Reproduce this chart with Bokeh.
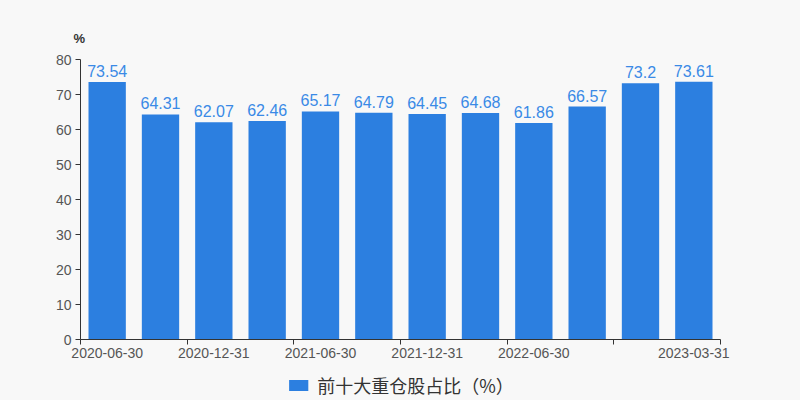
from bokeh.plotting import figure
from bokeh.layouts import column
from bokeh.models import (ColumnDataSource, Range1d, FixedTicker, Legend, LegendItem)
from bokeh.core.properties import value
from bokeh.embed import file_html
from bokeh.resources import INLINE

dates = ["2020-06-30", "2020-09-30", "2020-12-31", "2021-03-31", "2021-06-30", "2021-09-30",
         "2021-12-31", "2022-03-31", "2022-06-30", "2022-09-30", "2022-12-31", "2023-03-31"]
values = [73.54, 64.31, 62.07, 62.46, 65.17, 64.79, 64.45, 64.68, 61.86, 66.57, 73.2, 73.61]
shown_labels = [0, 2, 4, 6, 8, 11]
y_ticks = [0, 10, 20, 30, 40, 50, 60, 70, 80]
series_name = "前十大重仓股占比（%）"
unit_text = "%"

BG = "#f8f8f8"
BAR = "#2c7fe0"
LBL = "#3a8ae6"
AX = "#333333"
TXT = "#555555"

n = len(dates)
xs = [i + 0.5 for i in range(n)]
labels_txt = ["{:g}".format(v) for v in values]
src = ColumnDataSource(dict(x=xs, top=values, label=labels_txt))

p = figure(frame_width=640, frame_height=280, output_backend="svg", toolbar_location=None,
           x_range=Range1d(0, n), y_range=Range1d(0, 80),
           min_border_left=80, min_border_right=80, min_border_top=59, min_border_bottom=31,
           background_fill_color=BG, border_fill_color=BG)
p.outline_line_color = None
p.xgrid.visible = False
p.ygrid.visible = False

# unit title
p.title.text = unit_text
p.title.align = "left"
p.title.offset = -7
p.title.standoff = 28
p.title.text_font = "Liberation Sans"
p.title.text_font_size = "13px"
p.title.text_font_style = "bold"
p.title.text_color = "#333333"

p.vbar(x="x", top="top", width=0.7, source=src, fill_color=BAR, line_color=None)
p.text(x="x", y="top", text="label", source=src, y_offset=-5, text_align="center",
       text_baseline="bottom", text_color=LBL, text_font_size="16px",
       text_font=value("Liberation Sans"))

# x axis
xa = p.xaxis[0]
xa.ticker = FixedTicker(ticks=[i + 0.5 for i in shown_labels],
                        minor_ticks=[float(i) for i in range(0, n + 1, 2)])
xa.major_label_overrides = {i + 0.5: dates[i] for i in shown_labels}
xa.major_tick_line_color = None
xa.major_tick_out = 5
xa.major_tick_in = 0
xa.minor_tick_out = 5
xa.minor_tick_in = 0
xa.minor_tick_line_color = AX
xa.axis_line_color = AX
xa.major_label_text_color = TXT
xa.major_label_text_font_size = "14px"
xa.major_label_text_font = "Liberation Sans"
xa.major_label_standoff = 3

# y axis
ya = p.yaxis[0]
ya.ticker = FixedTicker(ticks=y_ticks, minor_ticks=[])
ya.major_tick_out = 5
ya.major_tick_in = 0
ya.major_tick_line_color = AX
ya.axis_line_color = AX
ya.major_label_text_color = TXT
ya.major_label_text_font_size = "14px"
ya.major_label_text_font = "Liberation Sans"
ya.major_label_standoff = 4

# legend strip (its renderer holds one hidden, out-of-range dummy bar)
lg = figure(width=800, height=30, output_backend="svg", toolbar_location=None,
            x_range=Range1d(0, 1), y_range=Range1d(0, 1),
            x_axis_location=None, y_axis_location=None,
            min_border_left=0, min_border_right=0, min_border_top=0, min_border_bottom=0,
            background_fill_color=BG, border_fill_color=BG)
lg.outline_line_color = None
lg.xgrid.visible = False
lg.ygrid.visible = False
lg_src = ColumnDataSource(dict(x=[-10.0], top=[0.0]))
lr = lg.vbar(x="x", top="top", width=0.5, source=lg_src, fill_color=BAR, line_color=None)
legend = Legend(items=[LegendItem(label=series_name, renderers=[lr])],
                location="center", orientation="horizontal",
                glyph_width=24, glyph_height=14, padding=0, margin=0, spacing=0,
                label_text_font="Noto Sans CJK SC", label_text_font_size="18px",
                label_text_color="#333333", label_standoff=7,
                border_line_color=None, background_fill_alpha=0)
lg.add_layout(legend, "center")

layout = column(p, lg, spacing=0)
html = file_html(layout, INLINE)
html = html.replace("</head>", "<style>html, body { background-color: %s; }</style></head>" % BG, 1)
open("out.html", "w").write(html)
